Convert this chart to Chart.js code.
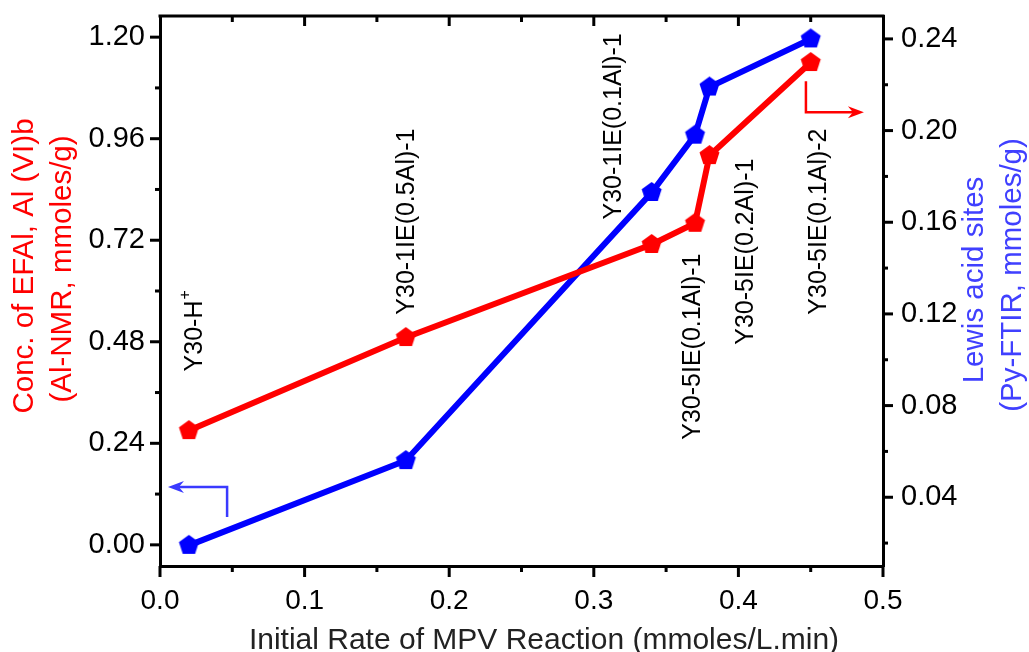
<!DOCTYPE html>
<html><head><meta charset="utf-8">
<script src="https://cdn.jsdelivr.net/npm/chart.js@4.4.0/dist/chart.umd.min.js"></script>
<style>html,body{margin:0;padding:0;background:#fff;}#wrap{width:1029px;height:652px;position:relative;}</style>
</head><body><div id="wrap"><canvas id="c"></canvas></div>
<script>
// ---- data ----
const rateX = [0.02, 0.17, 0.34, 0.37, 0.38, 0.45];
const efalConc = [0.27, 0.49, 0.71, 0.76, 0.92, 1.14];
const lewisSites = [0.019, 0.056, 0.173, 0.198, 0.219, 0.24];
const sampleLabels = ['Y30-H\u207A', 'Y30-1IE(0.5Al)-1', 'Y30-1IE(0.1Al)-1', 'Y30-5IE(0.1Al)-1', 'Y30-5IE(0.2Al)-1', 'Y30-5IE(0.1Al)-2'];
const xTicks = [0, 0.1, 0.2, 0.3, 0.4, 0.5];
const xMinorTicks = [0.05, 0.15, 0.25, 0.35, 0.45];
const yLeftTicks = [0, 0.24, 0.48, 0.72, 0.96, 1.20];
const yLeftMinorTicks = [0.12, 0.36, 0.60, 0.84, 1.08];
const yRightTicks = [0.04, 0.08, 0.12, 0.16, 0.20, 0.24];
const yRightMinorTicks = [0.02, 0.06, 0.10, 0.14, 0.18, 0.22];
const xTitle = 'Initial Rate of MPV Reaction (mmoles/L.min)';
const yLeftTitle = ['Conc. of EFAl, Al (VI)b', '(Al-NMR, mmoles/g)'];
const yRightTitle = ['Lewis acid sites', '(Py-FTIR, mmoles/g)'];

// ---- layout (label anchors in x / left-axis units: start of rotated text) ----
const labelAnchorX = [0.0242, 0.171, 0.3137, 0.369, 0.405, 0.4557];
const labelAnchorY = [0.41, 0.544, 0.769, 0.2485, 0.473, 0.544];
const blueArrow = [[0.0464, 0.066], [0.0464, 0.137], [0.0055, 0.137]];
const redArrow = [[0.4467, 1.096], [0.4467, 1.0225], [0.4868, 1.0225]];

const FONT = '"Liberation Sans", Arial, sans-serif';
const RED = '#ff0000', BLUE = '#0000ff';

function pentagon(color, r) {
  const s = Math.ceil(2 * r + 2);
  const c = document.createElement('canvas');
  c.width = s; c.height = s;
  const g = c.getContext('2d');
  g.fillStyle = color;
  g.beginPath();
  for (let k = 0; k < 5; k++) {
    const a = -Math.PI / 2 + k * 2 * Math.PI / 5;
    const px = s / 2 + r * Math.cos(a), py = s / 2 + r * Math.sin(a);
    k ? g.lineTo(px, py) : g.moveTo(px, py);
  }
  g.closePath(); g.fill();
  return c;
}

function line(ctx, x1, y1, x2, y2) { ctx.beginPath(); ctx.moveTo(x1, y1); ctx.lineTo(x2, y2); ctx.stroke(); }

function arrow(ctx, chart, pts, color) {
  const xs = chart.scales.x, ys = chart.scales.y;
  const P = pts.map(p => [xs.getPixelForValue(p[0]), ys.getPixelForValue(p[1])]);
  ctx.save();
  ctx.strokeStyle = color; ctx.fillStyle = color; ctx.lineWidth = 2.5;
  const [tx, ty] = P[2], [cx, cy] = P[1];
  const dir = Math.sign(tx - cx);
  ctx.beginPath(); ctx.moveTo(P[0][0], P[0][1]); ctx.lineTo(cx, cy); ctx.lineTo(tx - dir * 8, ty); ctx.stroke();
  ctx.beginPath();
  ctx.moveTo(tx, ty);
  ctx.lineTo(tx - dir * 16, ty - 6);
  ctx.lineTo(tx - dir * 11, ty);
  ctx.lineTo(tx - dir * 16, ty + 6);
  ctx.closePath(); ctx.fill();
  ctx.restore();
}

function rotText(ctx, lines, xs, yc, font, color) {
  ctx.save();
  ctx.font = font; ctx.fillStyle = color; ctx.textAlign = 'center'; ctx.textBaseline = 'middle';
  lines.forEach((t, i) => {
    ctx.save(); ctx.translate(xs[i], yc[i]); ctx.rotate(-Math.PI / 2); ctx.fillText(t, 0, 0); ctx.restore();
  });
  ctx.restore();
}

const decor = {
  id: 'decor',
  afterDraw(chart) {
    const ctx = chart.ctx;
    const { left, right, top, bottom } = chart.chartArea;
    const xs = chart.scales.x, yl = chart.scales.y, yr = chart.scales.y2;
    ctx.save();
    ctx.strokeStyle = '#000'; ctx.lineWidth = 3; ctx.lineCap = 'butt';
    line(ctx, left - 1.5, top, right + 1.5, top);
    yLeftTicks.forEach(v => { const y = yl.getPixelForValue(v); line(ctx, left - 10, y, left, y); });
    yLeftMinorTicks.forEach(v => { const y = yl.getPixelForValue(v); line(ctx, left - 5, y, left, y); });
    yRightTicks.forEach(v => { const y = yr.getPixelForValue(v); line(ctx, right, y, right + 10, y); });
    yRightMinorTicks.forEach(v => { const y = yr.getPixelForValue(v); line(ctx, right, y, right + 5, y); });
    xTicks.forEach(v => { const x = xs.getPixelForValue(v); line(ctx, x, bottom, x, bottom + 11); });
    xMinorTicks.forEach(v => { const x = xs.getPixelForValue(v); line(ctx, x, bottom, x, bottom + 6); });
    xTicks.slice(1, -1).forEach(v => { const x = xs.getPixelForValue(v); line(ctx, x, top, x, top + 10); });
    xMinorTicks.forEach(v => { const x = xs.getPixelForValue(v); line(ctx, x, top, x, top + 6); });
    ctx.restore();

    ctx.save();
    ctx.fillStyle = '#000'; ctx.textBaseline = 'middle'; ctx.textAlign = 'left';
    sampleLabels.forEach((t, i) => {
      const x = xs.getPixelForValue(labelAnchorX[i]), y = yl.getPixelForValue(labelAnchorY[i]);
      ctx.save(); ctx.translate(x, y); ctx.rotate(-Math.PI / 2);
      ctx.font = '25px ' + FONT;
      if (t.endsWith('\u207A')) {
        const base = t.slice(0, -1);
        ctx.fillText(base, 0, 0);
        const w = ctx.measureText(base).width;
        ctx.font = '16px ' + FONT;
        ctx.fillText('+', w + 1, -9);
      } else {
        ctx.fillText(t, 0, 0);
      }
      ctx.restore();
    });
    ctx.restore();

    arrow(ctx, chart, blueArrow, '#3a3aff');
    arrow(ctx, chart, redArrow, RED);

    rotText(ctx, yLeftTitle, [25, 63], [266, 269], '29.5px ' + FONT, RED);
    rotText(ctx, yRightTitle, [975, 1013], [280, 275], '29.5px ' + FONT, '#4040ff');
    ctx.save();
    ctx.font = '30px ' + FONT; ctx.fillStyle = '#222'; ctx.textAlign = 'center'; ctx.textBaseline = 'alphabetic';
    ctx.fillText(xTitle, 544, 649);
    ctx.restore();
  }
};

const noPadY = s => { s.paddingTop = 0; s.paddingBottom = 0; };
const tickFont = { family: FONT, size: 29 };
new Chart(document.getElementById('c'), {
  type: 'line',
  data: {
    datasets: [
      { label: 'EFAl (Al-NMR)', data: rateX.map((x, i) => ({ x, y: efalConc[i] })), yAxisID: 'y',
        borderColor: RED, backgroundColor: RED, borderWidth: 6, pointStyle: pentagon(RED, 10.5), tension: 0 },
      { label: 'Lewis acid sites (Py-FTIR)', data: rateX.map((x, i) => ({ x, y: lewisSites[i] })), yAxisID: 'y2',
        borderColor: BLUE, backgroundColor: BLUE, borderWidth: 6, pointStyle: pentagon(BLUE, 10.5), tension: 0 }
    ]
  },
  options: {
    responsive: true, maintainAspectRatio: false, animation: false,
    layout: { padding: { top: 16, left: 0, right: 0, bottom: 0 } },
    plugins: { legend: { display: false }, tooltip: { enabled: false } },
    scales: {
      x: { type: 'linear', position: 'bottom', min: 0, max: 0.5,
        afterBuildTicks: s => { s.ticks = xTicks.map(v => ({ value: v })); },
        afterFit: s => { s.height = 86; s.paddingLeft = 0; s.paddingRight = 0; },
        ticks: { callback: v => Number(v).toFixed(1), font: { family: FONT, size: 28 }, color: '#000', padding: 18, maxRotation: 0, autoSkip: false },
        grid: { display: false, drawTicks: false },
        border: { display: true, color: '#000', width: 3 } },
      y: { type: 'linear', position: 'left', min: -0.05, max: 1.25,
        afterBuildTicks: s => { s.ticks = yLeftTicks.map(v => ({ value: v })); },
        afterFit: s => { s.width = 160; noPadY(s); },
        ticks: { callback: v => Number(v).toFixed(2), font: tickFont, color: '#000', padding: 15, autoSkip: false },
        grid: { display: false, drawTicks: false },
        border: { display: true, color: '#000', width: 3 } },
      y2: { type: 'linear', position: 'right', min: 0.01, max: 0.25,
        afterBuildTicks: s => { s.ticks = yRightTicks.map(v => ({ value: v })); },
        afterFit: s => { s.width = 146; noPadY(s); },
        ticks: { callback: v => Number(v).toFixed(2), font: tickFont, color: '#000', padding: 18, autoSkip: false },
        grid: { display: false, drawTicks: false },
        border: { display: true, color: '#000', width: 3 } }
    }
  },
  plugins: [decor]
});
</script></body></html>
